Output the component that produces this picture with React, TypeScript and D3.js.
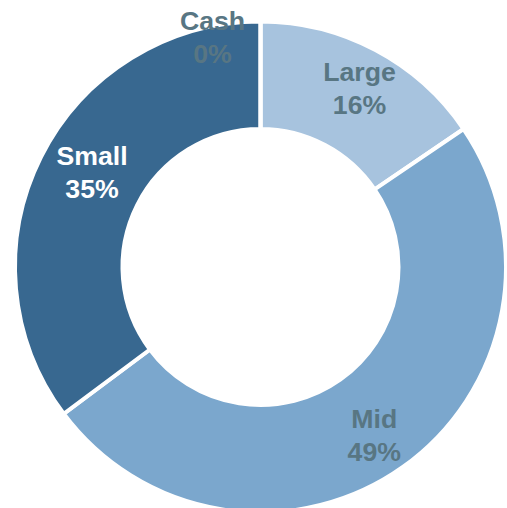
// App.tsx
// donut of allocation by size bucket
import * as d3 from 'd3';
import React, { useRef, useEffect } from 'react';

const categories = ['Large', 'Mid', 'Small', 'Cash'];
// shares; labels show them rounded
const values = [15.5, 49.3, 35.2, 0];
const colors = ['#a7c3de', '#7ba7cd', '#386890', '#2f5a7d'];
const textColors = ['#587683', '#587683', '#ffffff', '#587683'];

const width = 507;
const height = 508;

// small label nudges so they sit like the original
const nudge: Record<string, [number, number]> = {
    Large: [4, 0],
    Mid: [-4, 3],
    Small: [13, -4],
    Cash: [-48, -27],
};

function Donut() {
    const ref = useRef<SVGSVGElement>(null);

    useEffect(() => {
        const svg = d3.select(ref.current);
        svg.selectAll('*').remove();

        const cx = 260.5, cy = 267;
        const outer = 245.5, inner = 138;

        const pie = d3.pie<number>().sort(null).value(d => d);
        const arcs = pie(values);

        const arc = d3.arc<d3.PieArcDatum<number>>()
            .innerRadius(inner)
            .outerRadius(outer);
        const labelArc = d3.arc<d3.PieArcDatum<number>>()
            .innerRadius(203)
            .outerRadius(203);

        const g = svg.append('g').attr('transform', `translate(${cx},${cy})`);

        g.selectAll('path')
            .data(arcs)
            .enter()
            .append('path')
            .attr('d', arc)
            .attr('fill', (d, i) => colors[i])
            .attr('stroke', '#ffffff')
            .attr('stroke-width', 4)
            .attr('stroke-linejoin', 'miter');

        const labels = g.selectAll('text.lbl')
            .data(arcs)
            .enter()
            .append('text')
            .attr('class', 'lbl')
            .attr('text-anchor', 'middle')
            .attr('font-family', '"Liberation Sans", Arial, sans-serif')
            .attr('font-weight', 'bold')
            .attr('font-size', 26.7)
            .attr('fill', (d, i) => textColors[i])
            .attr('transform', (d, i) => {
                const c = labelArc.centroid(d);
                const n = nudge[categories[i]] || [0, 0];
                return `translate(${c[0] + n[0]},${c[1] + n[1]})`;
            });

        labels.append('tspan')
            .attr('x', 0)
            .attr('y', -7)
            .text((d, i) => categories[i]);
        labels.append('tspan')
            .attr('x', 0)
            .attr('y', 26)
            .text((d, i) => Math.round(values[i]) + '%');
    }, []);

    return (
        <svg ref={ref} width={width} height={height}
            style={{ position: 'absolute', left: 0, top: 0, background: '#ffffff' }} />
    );
}

export default function App() {
    return <Donut />;
}
